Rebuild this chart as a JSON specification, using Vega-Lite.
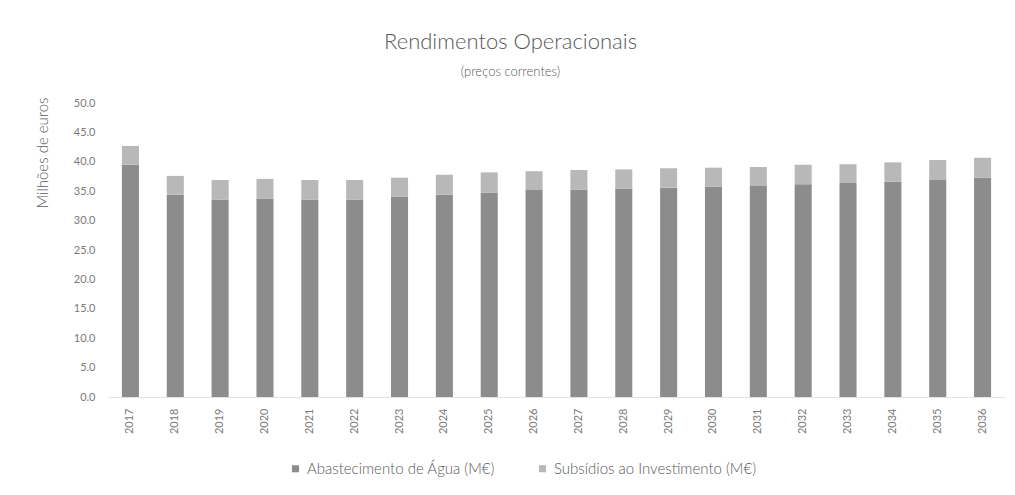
{
  "$schema": "https://vega.github.io/schema/vega-lite/v6.json",
  "autosize": "none",
  "width": 897,
  "height": 294,
  "padding": {"left": 108, "top": 103, "right": 10, "bottom": 98},
  "background": "white",
  "title": {
    "text": "Rendimentos Operacionais",
    "subtitle": "(preços correntes)",
    "anchor": "middle",
    "frame": "group",
    "dx": -46,
    "fontSize": 22,
    "font": "Lato",
    "fontWeight": 300,
    "color": "#595959",
    "subtitleFontSize": 13,
    "subtitleFont": "Lato",
    "subtitleFontWeight": 300,
    "subtitleColor": "#595959",
    "subtitlePadding": 12,
    "offset": 17
  },
  "data": {
    "values": [
      {"ano": "2017", "serie": "Abastecimento de Água (M€)", "valor": 39.5},
      {"ano": "2017", "serie": "Subsídios ao Investimento (M€)", "valor": 3.2},
      {"ano": "2018", "serie": "Abastecimento de Água (M€)", "valor": 34.4},
      {"ano": "2018", "serie": "Subsídios ao Investimento (M€)", "valor": 3.2},
      {"ano": "2019", "serie": "Abastecimento de Água (M€)", "valor": 33.6},
      {"ano": "2019", "serie": "Subsídios ao Investimento (M€)", "valor": 3.3},
      {"ano": "2020", "serie": "Abastecimento de Água (M€)", "valor": 33.7},
      {"ano": "2020", "serie": "Subsídios ao Investimento (M€)", "valor": 3.4},
      {"ano": "2021", "serie": "Abastecimento de Água (M€)", "valor": 33.6},
      {"ano": "2021", "serie": "Subsídios ao Investimento (M€)", "valor": 3.3},
      {"ano": "2022", "serie": "Abastecimento de Água (M€)", "valor": 33.6},
      {"ano": "2022", "serie": "Subsídios ao Investimento (M€)", "valor": 3.3},
      {"ano": "2023", "serie": "Abastecimento de Água (M€)", "valor": 34.1},
      {"ano": "2023", "serie": "Subsídios ao Investimento (M€)", "valor": 3.2},
      {"ano": "2024", "serie": "Abastecimento de Água (M€)", "valor": 34.4},
      {"ano": "2024", "serie": "Subsídios ao Investimento (M€)", "valor": 3.4},
      {"ano": "2025", "serie": "Abastecimento de Água (M€)", "valor": 34.8},
      {"ano": "2025", "serie": "Subsídios ao Investimento (M€)", "valor": 3.4},
      {"ano": "2026", "serie": "Abastecimento de Água (M€)", "valor": 35.2},
      {"ano": "2026", "serie": "Subsídios ao Investimento (M€)", "valor": 3.2},
      {"ano": "2027", "serie": "Abastecimento de Água (M€)", "valor": 35.3},
      {"ano": "2027", "serie": "Subsídios ao Investimento (M€)", "valor": 3.3},
      {"ano": "2028", "serie": "Abastecimento de Água (M€)", "valor": 35.4},
      {"ano": "2028", "serie": "Subsídios ao Investimento (M€)", "valor": 3.3},
      {"ano": "2029", "serie": "Abastecimento de Água (M€)", "valor": 35.6},
      {"ano": "2029", "serie": "Subsídios ao Investimento (M€)", "valor": 3.3},
      {"ano": "2030", "serie": "Abastecimento de Água (M€)", "valor": 35.8},
      {"ano": "2030", "serie": "Subsídios ao Investimento (M€)", "valor": 3.2},
      {"ano": "2031", "serie": "Abastecimento de Água (M€)", "valor": 35.9},
      {"ano": "2031", "serie": "Subsídios ao Investimento (M€)", "valor": 3.2},
      {"ano": "2032", "serie": "Abastecimento de Água (M€)", "valor": 36.2},
      {"ano": "2032", "serie": "Subsídios ao Investimento (M€)", "valor": 3.3},
      {"ano": "2033", "serie": "Abastecimento de Água (M€)", "valor": 36.4},
      {"ano": "2033", "serie": "Subsídios ao Investimento (M€)", "valor": 3.2},
      {"ano": "2034", "serie": "Abastecimento de Água (M€)", "valor": 36.6},
      {"ano": "2034", "serie": "Subsídios ao Investimento (M€)", "valor": 3.3},
      {"ano": "2035", "serie": "Abastecimento de Água (M€)", "valor": 36.9},
      {"ano": "2035", "serie": "Subsídios ao Investimento (M€)", "valor": 3.4},
      {"ano": "2036", "serie": "Abastecimento de Água (M€)", "valor": 37.3},
      {"ano": "2036", "serie": "Subsídios ao Investimento (M€)", "valor": 3.4}
    ]
  },
  "mark": {"type": "bar"},
  "encoding": {
    "x": {
      "field": "ano",
      "type": "ordinal",
      "scale": {"paddingInner": 0.62, "paddingOuter": 0.31},
      "axis": {
        "title": null,
        "labelAngle": -90,
        "labelFont": "Lato",
        "labelFontSize": 11,
        "labelColor": "#7a7a7a",
        "labelPadding": 11,
        "domainColor": "#e3e3e3",
        "ticks": false
      }
    },
    "y": {
      "field": "valor",
      "type": "quantitative",
      "stack": "zero",
      "scale": {"domain": [0, 50], "nice": false},
      "axis": {
        "title": "Milhões de euros",
        "titleFont": "Lato",
        "titleFontSize": 15,
        "titleFontWeight": 300,
        "titleColor": "#595959",
        "titleAnchor": "end",
        "titleX": -58,
        "titleY": -6,
        "values": [0, 5, 10, 15, 20, 25, 30, 35, 40, 45, 50],
        "format": ".1f",
        "labelFont": "Lato",
        "labelFontSize": 11,
        "labelColor": "#7a7a7a",
        "labelPadding": 13,
        "ticks": false,
        "domain": false,
        "grid": false
      }
    },
    "color": {
      "field": "serie",
      "type": "nominal",
      "scale": {
        "domain": ["Abastecimento de Água (M€)", "Subsídios ao Investimento (M€)"],
        "range": ["#8c8c8c", "#b8b8b8"]
      },
      "legend": {
        "title": null,
        "orient": "none",
        "legendX": 180,
        "legendY": 358,
        "direction": "horizontal",
        "symbolType": "square",
        "symbolSize": 50,
        "labelFont": "Lato",
        "labelFontSize": 15,
        "labelFontWeight": 300,
        "labelColor": "#595959",
        "labelLimit": 400,
        "columnPadding": 40
      }
    },
    "order": {"field": "serie", "sort": "ascending"}
  },
  "config": {
    "view": {"stroke": null}
  }
}
